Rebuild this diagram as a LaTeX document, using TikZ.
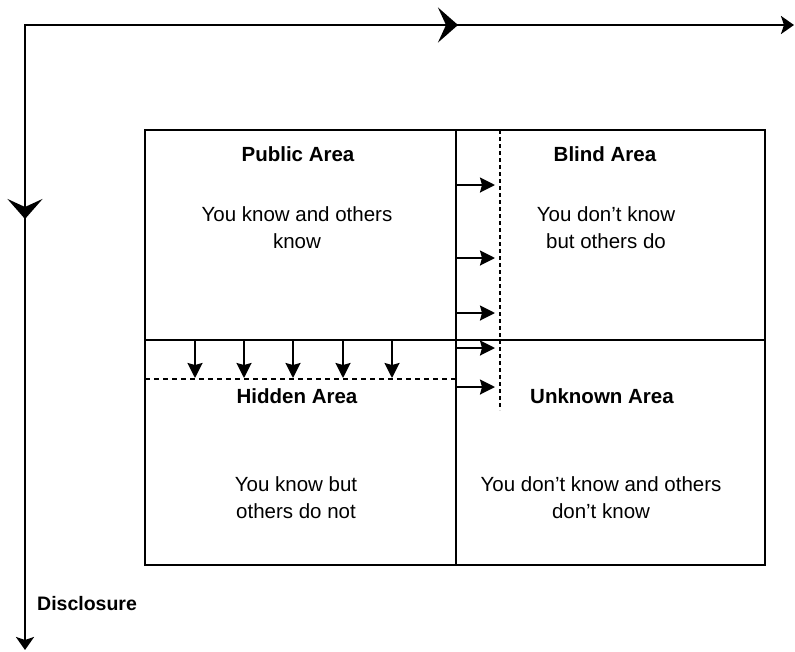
\documentclass[tikz,border=0pt]{standalone}
\usepackage{fontspec}
\setmainfont{Liberation Sans}
\usetikzlibrary{arrows.meta}
\begin{document}
\begin{tikzpicture}[x=1pt,y=-1pt,
  axis/.style={line width=2.6pt},
  bigtip/.style={-{Stealth[length=20pt,width=35pt,inset=8pt]}},
  endtip/.style={-{Stealth[length=13pt,width=18pt,inset=3pt]}},
  flowtip/.style={line width=2.2pt,-{Stealth[length=15pt,width=15pt,inset=2pt]}},
  frame/.style={line width=2.5pt},
  boundary/.style={line width=2.3pt},
  title/.style={font=\bfseries\fontsize{20.5}{27}\selectfont, anchor=base, inner sep=0pt},
  body/.style={font=\fontsize{20.5}{27}\selectfont, align=center, anchor=base, inner sep=0pt},
]
\useasboundingbox (0,0) rectangle (795,651);

% axes
\coordinate (corner) at (25,25);
\coordinate (topmid) at (458,25);
\coordinate (topend) at (794,25);
\coordinate (leftmid) at (25,219);
\coordinate (leftend) at (25,650);
\draw[axis] (leftmid) -- (corner) -- (topmid);
\draw[axis,bigtip] (corner) -- (topmid);
\draw[axis,endtip] (topmid) -- (topend);
\draw[axis,bigtip] (corner) -- (leftmid);
\draw[axis,endtip] (leftmid) -- (leftend);

% window frame and quadrant dividers
\coordinate (nw) at (145,130);
\coordinate (se) at (765,565);
\coordinate (vtop) at (456,130);
\coordinate (vbot) at (456,565);
\coordinate (hleft) at (145,340);
\coordinate (hright) at (765,340);
\draw[frame] (nw) rectangle (se);
\draw[frame] (vtop) -- (vbot);
\draw[frame] (hleft) -- (hright);

% shifted boundaries
\coordinate (dashL) at (145,379);
\coordinate (dashR) at (456,379);
\coordinate (dotT) at (500,130);
\coordinate (dotB) at (500,410);
\draw[boundary, dash pattern=on 5pt off 4pt] (dashL) -- (dashR);
\draw[boundary, dash pattern=on 4pt off 3pt] (dotT) -- (dotB);

% disclosure arrows (downwards)
\foreach \x in {195,244,293,343,392}
  \draw[flowtip] (\x,340) -- (\x,378);
% feedback arrows (rightwards)
\foreach \y in {185,258,313,348,387}
  \draw[flowtip] (456,\y) -- (495,\y);

% quadrant labels (multi-line nodes sit on the baseline of their last line)
\node[title] (public) at (298,161) {Public Area};
\node[body] (publictext) at (297,248) {You know and others\\know};
\node[title] (blind) at (605,161) {Blind Area};
\node[body] (blindtext) at (606,248) {You don't know\\but others do};
\node[title] (hidden) at (297,403) {Hidden Area};
\node[body] (hiddentext) at (296,518) {You know but\\others do not};
\node[title] (unknown) at (602,403) {Unknown Area};
\node[body] (unknowntext) at (601,518) {You don't know and others\\don't know};
\node[title, font=\bfseries\fontsize{19.5}{24}\selectfont, anchor=base west] (disclosure) at (37,610) {Disclosure};
\end{tikzpicture}
\end{document}
